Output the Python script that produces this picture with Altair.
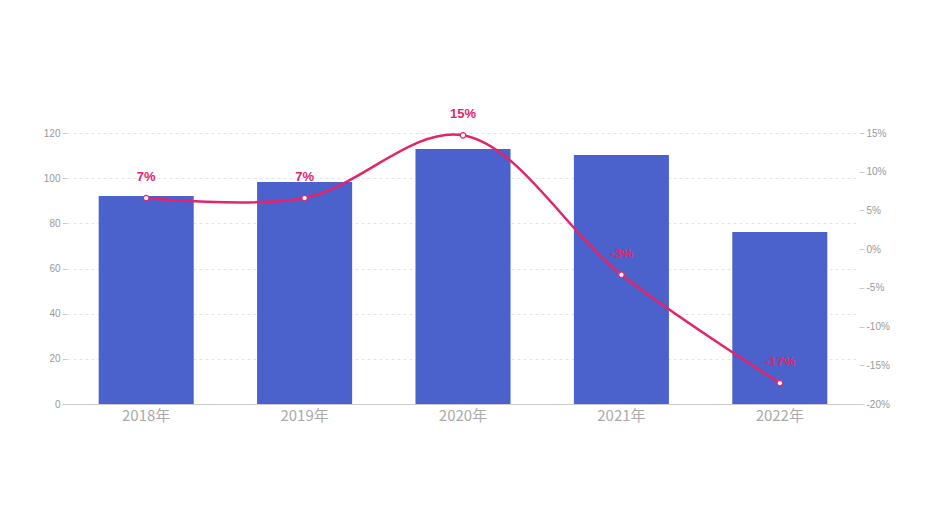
import altair as alt
import pandas as pd

years = ["2018年", "2019年", "2020年", "2021年", "2022年"]
values = [92.1, 98.3, 112.9, 110.3, 76.2]
rates = [6.6, 6.6, 14.7, -3.3, -17.3]
rate_labels = ["7%", "7%", "15%", "-3%", "-17%"]

df = pd.DataFrame({"year": years, "value": values, "rate": rates, "label": rate_labels})

BAR = "#4b62cd"
LINE = "#e3246a"
GRID = "#e6e6e6"
LBL = "#999999"

x = alt.X("year:N", sort=years, title=None,
          scale=alt.Scale(paddingInner=0.4, paddingOuter=0.2),
          axis=alt.Axis(labelAngle=0, labelFontSize=15, labelColor="#aaaaaa", ticks=False,
                        domainColor="#cccccc", labelPadding=4, labelFont="Noto Sans CJK SC"))

bars = alt.Chart(df).mark_bar(color=BAR).encode(
    x=x,
    y=alt.Y("value:Q", title=None,
            scale=alt.Scale(domain=[0, 120]),
            axis=alt.Axis(values=[0, 20, 40, 60, 80, 100, 120], labelColor=LBL, labelFontSize=10,
                          tickColor="#cccccc", tickSize=5, domain=False,
                          gridDash=[3, 3], gridColor=GRID, labelPadding=2)),
)

ybase = alt.Y("rate:Q", title=None,
              scale=alt.Scale(domain=[-20, 15]),
              axis=alt.Axis(orient="right", values=[-20, -15, -10, -5, 0, 5, 10, 15],
                            labelExpr="datum.value + '%'", labelColor=LBL, labelFontSize=10,
                            tickColor="#cccccc", tickSize=5, domain=False,
                            gridDash=[3, 3], gridColor=GRID, labelPadding=2))

base = alt.Chart(df).encode(x=x, y=ybase)
line = base.mark_line(color=LINE, strokeWidth=2.5, interpolate="catmull-rom")
pts = base.mark_point(filled=True, fill="white", stroke=LINE, strokeWidth=1.2, size=30, opacity=1)
txt = base.mark_text(color=LINE, fontWeight="bold", fontSize=13, dy=-21,
                     font="Liberation Sans").encode(text="label:N")

rate_layer = alt.layer(line, pts, txt)

chart = alt.layer(bars, rate_layer).resolve_scale(y="independent").properties(
    width=792, height=271,
    autosize=alt.AutoSizeParams(type="none"),
    padding={"left": 59, "top": 125, "right": 40, "bottom": 80},
).configure_view(stroke=None)

chart.save("out.html", embed_options={"renderer": "svg", "actions": False})
